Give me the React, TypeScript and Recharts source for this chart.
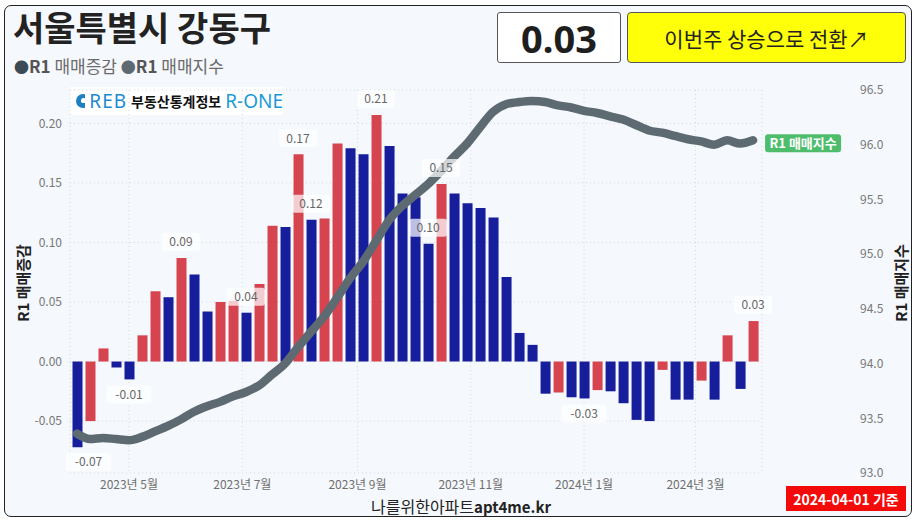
import React from "react";
import {
  ComposedChart,
  Bar,
  Line,
  Scatter,
  Cell,
  XAxis,
  YAxis,
  CartesianGrid,
} from "recharts";

const FONT = "'Noto Sans CJK KR', 'Noto Sans', sans-serif";

// weekly survey dates (R-ONE 주간 아파트 동향)
const weeks = [
  "2023-04-03", "2023-04-10", "2023-04-17", "2023-04-24",
  "2023-05-01", "2023-05-08", "2023-05-15", "2023-05-22", "2023-05-29",
  "2023-06-05", "2023-06-12", "2023-06-19", "2023-06-26",
  "2023-07-03", "2023-07-10", "2023-07-17", "2023-07-24", "2023-07-31",
  "2023-08-07", "2023-08-14", "2023-08-21", "2023-08-28",
  "2023-09-04", "2023-09-11", "2023-09-18", "2023-09-25",
  "2023-10-02", "2023-10-09", "2023-10-16", "2023-10-23", "2023-10-30",
  "2023-11-06", "2023-11-13", "2023-11-20", "2023-11-27",
  "2023-12-04", "2023-12-11", "2023-12-18", "2023-12-25",
  "2024-01-01", "2024-01-08", "2024-01-15", "2024-01-22", "2024-01-29",
  "2024-02-05", "2024-02-12", "2024-02-19", "2024-02-26",
  "2024-03-04", "2024-03-11", "2024-03-18", "2024-03-25",
  "2024-04-01",
];

// R1 매매증감 (%)
const changes = [
  -0.072, -0.05, 0.011, -0.005, -0.015, 0.022, 0.059, 0.054, 0.087, 0.073,
  0.042, 0.05, 0.051, 0.041, 0.065, 0.114, 0.113, 0.174, 0.119, 0.12,
  0.183, 0.179, 0.174, 0.207, 0.181, 0.141, 0.138, 0.099, 0.149, 0.141,
  0.133, 0.129, 0.121, 0.071, 0.024, 0.014, -0.027, -0.026, -0.03, -0.031,
  -0.024, -0.025, -0.035, -0.049, -0.05, -0.007, -0.032, -0.032, -0.016, -0.032,
  0.022, -0.023, 0.034,
];

// R1 매매지수
const index = [
  93.36, 93.31, 93.32, 93.31, 93.3, 93.33, 93.38, 93.43, 93.49, 93.56,
  93.61, 93.65, 93.7, 93.74, 93.8, 93.9, 94.0, 94.15, 94.29, 94.43,
  94.6, 94.78, 94.93, 95.12, 95.31, 95.44, 95.54, 95.64, 95.76, 95.89,
  96.01, 96.16, 96.3, 96.37, 96.39, 96.4, 96.39, 96.36, 96.34, 96.31,
  96.29, 96.26, 96.23, 96.18, 96.13, 96.11, 96.08, 96.05, 96.03, 96.0,
  96.04, 96.01, 96.04,
];

// weeks whose change value is printed
const labelledWeeks = [0, 4, 8, 13, 17, 18, 23, 27, 28, 39, 52];

const monthTicks = ["2023-05-01", "2023-07-01", "2023-09-01", "2023-11-01", "2024-01-01", "2024-03-01"];
const monthLabels = ["2023년 5월", "2023년 7월", "2023년 9월", "2023년 11월", "2024년 1월", "2024년 3월"];

const leftTicks = [-0.05, 0, 0.05, 0.1, 0.15, 0.2];
const rightTicks = [93, 93.5, 94, 94.5, 95, 95.5, 96, 96.5];

const BLUE = "#161e9c";
const RED = "#d64450";

const DAY = 86400000;
const base = Date.parse(weeks[0]);
const dayOf = (s: string) => (Date.parse(s) - base) / DAY;

const fmt2 = (v: number) => (Math.round(v * 100) / 100).toFixed(2);

const data = weeks.map((w, i) => ({
  t: dayOf(w),
  chg: changes[i],
  idx: index[i],
  up: i > 0 && changes[i] > changes[i - 1],
  lab: labelledWeeks.includes(i),
}));

const tickDays = monthTicks.map(dayOf);
const tickLabel = (d: number) => monthLabels[tickDays.indexOf(d)] ?? "";

const ValueTag = (p: any) => {
  const { cx, cy, payload } = p;
  if (!payload || !payload.lab) return <g />;
  const v = payload.chg;
  const txt = fmt2(v);
  const w = txt.length * 7 + 10;
  const yc = v >= 0 ? cy - 16 : cy + 15;
  const left = Math.max(cx - w / 2, 66);
  return (
    <g>
      <rect x={left} y={yc - 9} width={w} height={18} rx={3} fill="#fff" fillOpacity={0.72} />
      <text x={left + w / 2} y={yc} dy="0.35em" textAnchor="middle" fontSize={12} fill="#666">
        {txt}
      </text>
    </g>
  );
};

const EndTag = (p: any) => {
  if (p.index !== index.length - 1) return <g key={p.index} />;
  return (
    <g key="end">
      <rect x={p.cx + 12} y={p.cy - 6} width={76} height={18} rx={3} fill="#4dbd6c" />
      <text x={p.cx + 50} y={p.cy + 3} dy="0.35em" textAnchor="middle" fill="#fff" fontWeight={700} fontSize={13}>
        R1 매매지수
      </text>
    </g>
  );
};

const App = () => {
  const last = changes[changes.length - 1];
  return (
    <div style={{ position: "absolute", left: 0, top: 0, width: 920, height: 524, background: "#fff", fontFamily: FONT }}>
      <div
        style={{
          position: "absolute", left: 4, top: 5, width: 908, height: 512, boxSizing: "border-box",
          border: "1.5px solid #222", borderRadius: 7, background: "#f5f8fc",
        }}
      />
      <div style={{ position: "absolute", left: 13, top: 9.2, fontSize: 34, fontWeight: 700, color: "#222", lineHeight: "36px", whiteSpace: "nowrap" }}>
        서울특별시 강동구
      </div>
      <div style={{ position: "absolute", left: 14, top: 56.6, fontSize: 17, lineHeight: "18px", color: "#6b6b6b", whiteSpace: "nowrap" }}>
        <span style={{ color: "#3c4a55", fontSize: 15 }}>●</span>
        <b style={{ color: "#555" }}>R1</b> 매매증감{" "}
        <span style={{ color: "#5e6a72", fontSize: 15 }}>●</span>
        <b style={{ color: "#555" }}>R1</b> 매매지수
      </div>

      <div
        style={{
          position: "absolute", left: 497, top: 12, width: 124, height: 51, boxSizing: "border-box",
          border: "1px solid #555", borderRadius: 3, background: "#fff", display: "flex",
          alignItems: "center", justifyContent: "center", fontSize: 38, fontWeight: 700, color: "#1e1e1e",
          fontFamily: "'Noto Sans', sans-serif",
        }}
      >
        {fmt2(last)}
      </div>
      <div
        style={{
          position: "absolute", left: 627, top: 12, width: 279, height: 51, boxSizing: "border-box",
          border: "1px solid #555", borderRadius: 4, background: "#ffff0a", display: "flex",
          alignItems: "center", justifyContent: "center", fontSize: 21, color: "#222", whiteSpace: "nowrap",
        }}
      >
        이번주 상승으로 전환↗
      </div>

      <div
        style={{
          position: "absolute", left: 70, top: 87, width: 213, height: 28, background: "#fff",
          display: "flex", alignItems: "center", whiteSpace: "nowrap",
        }}
      >
        <svg width={16} height={16} style={{ marginLeft: 5 }}>
          <circle cx={8} cy={8} r={7} fill="#1d7fc4" />
          <circle cx={8.5} cy={7.5} r={2.6} fill="#fff" />
        </svg>
        <span style={{ marginLeft: 4, fontSize: 19, color: "#1d8ad0", fontFamily: "'Noto Sans', sans-serif", letterSpacing: 1 }}>REB</span>
        <span style={{ marginLeft: 4, fontSize: 14, fontWeight: 700, color: "#111" }}>부동산통계정보</span>
        <span style={{ marginLeft: 4, fontSize: 19, color: "#1a9ad6", fontFamily: "'Noto Sans', sans-serif" }}>R-ONE</span>
      </div>

      <div style={{ position: "absolute", left: 0, top: 0 }}>
        <ComposedChart width={920} height={524} data={data} margin={{ top: 90, right: 0, bottom: 0, left: 0 }}>
          <CartesianGrid yAxisId="left" stroke="#d3d9e1" strokeDasharray="1 3" />
          <XAxis
            dataKey="t"
            type="number"
            domain={[-3.77, 368.8]}
            ticks={tickDays}
            interval={0}
            tickFormatter={tickLabel}
            axisLine={false}
            tickLine={false}
            tickSize={0}
            tickMargin={7}
            height={51}
            tick={{ fill: "#6f6f6f", fontSize: 12 }}
          />
          <YAxis
            yAxisId="left"
            type="number"
            domain={[-0.0936, 0.228]}
            ticks={leftTicks}
            tickFormatter={(v: number) => v.toFixed(2)}
            axisLine={false}
            tickLine={false}
            tickSize={0}
            tickMargin={8}
            width={70}
            tick={{ fill: "#777", fontSize: 12 }}
          />
          <YAxis
            yAxisId="right"
            orientation="right"
            type="number"
            domain={[93, 96.5]}
            ticks={rightTicks}
            tickFormatter={(v: number) => v.toFixed(1)}
            axisLine={false}
            tickLine={false}
            tickSize={0}
            tickMargin={98}
            width={158}
            tick={{ fill: "#777", fontSize: 12, textAnchor: "start" }}
          />
          <Bar yAxisId="left" dataKey="chg" barSize={10} isAnimationActive={false}>
            {data.map((d, i) => (
              <Cell key={i} fill={d.up ? RED : BLUE} />
            ))}
          </Bar>
          <Line
            yAxisId="right"
            dataKey="idx"
            type="monotone"
            stroke="#5e6a72"
            strokeWidth={8.5}
            strokeLinecap="round"
            strokeLinejoin="round"
            dot={EndTag}
            activeDot={false}
            isAnimationActive={false}
          />
          <Scatter yAxisId="left" dataKey="chg" shape={ValueTag} isAnimationActive={false} />
        </ComposedChart>
      </div>

      <div
        style={{
          position: "absolute", left: 22, top: 283, transform: "translate(-50%, -50%) rotate(-90deg)",
          fontSize: 15, fontWeight: 700, color: "#222", whiteSpace: "nowrap",
        }}
      >
        R1 매매증감
      </div>
      <div
        style={{
          position: "absolute", left: 900, top: 283, transform: "translate(-50%, -50%) rotate(-90deg)",
          fontSize: 15, fontWeight: 700, color: "#222", whiteSpace: "nowrap",
        }}
      >
        R1 매매지수
      </div>

      <div
        style={{
          position: "absolute", left: 461, top: 496, transform: "translateX(-50%)", fontSize: 16,
          lineHeight: "20px", color: "#222", whiteSpace: "nowrap",
        }}
      >
        나를위한아파트<b style={{ fontSize: 15 }}>apt4me.kr</b>
      </div>
      <div
        style={{
          position: "absolute", left: 786, top: 486, width: 120, height: 25, background: "#f50a0a",
          color: "#fff", fontSize: 14, fontWeight: 700, display: "flex", alignItems: "center",
          justifyContent: "center", whiteSpace: "nowrap",
        }}
      >
        2024-04-01 기준
      </div>
    </div>
  );
};

export default App;
